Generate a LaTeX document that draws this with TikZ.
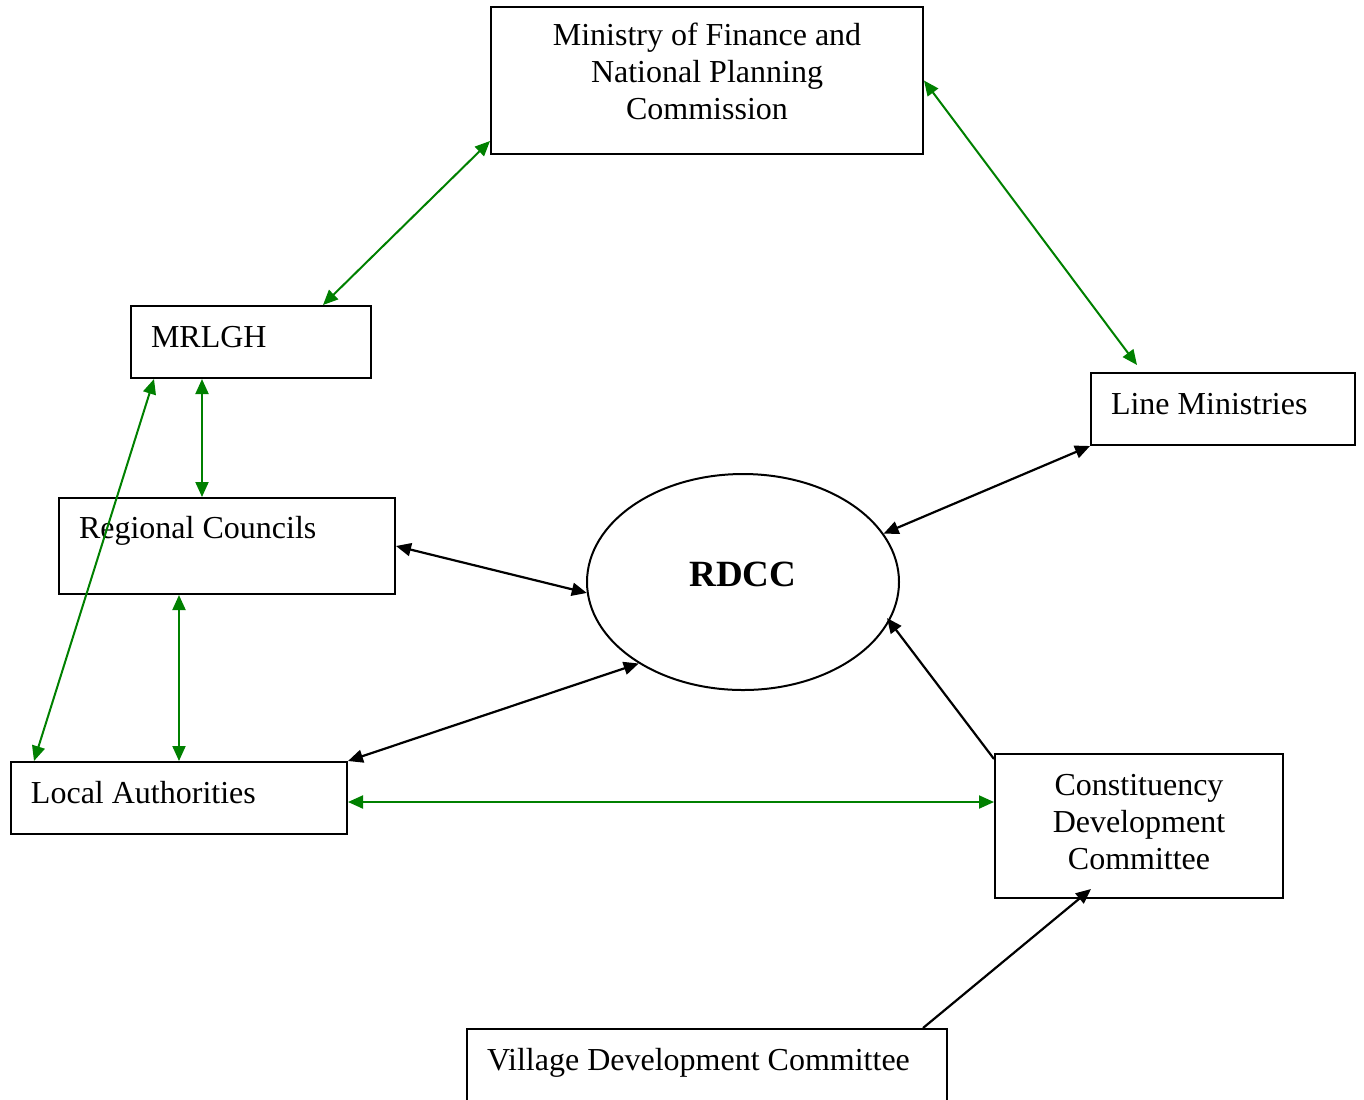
\documentclass[tikz,border=0pt]{standalone}
\usepackage{fontspec}
\setmainfont{Liberation Serif}
\usepackage{xcolor}
\usetikzlibrary{positioning, arrows.meta, shapes.geometric}
\definecolor{linkgreen}{RGB}{0,128,0}

\begin{document}
\begin{tikzpicture}[x=0.5pt, y=-0.5pt, >={Triangle[length=7.5pt, width=6.5pt]}]
	\tikzstyle{box}=[rectangle, draw=black, line width=1pt, font=\fontsize{16}{18.5}\selectfont, inner xsep=10pt, inner ysep=0pt]
	\tikzstyle{onerow}=[box, align=flush left, text height=20.5pt, text depth=15.5pt]
	\tikzstyle{greenlink}=[<->, draw=linkgreen, line width=1pt]
	\tikzstyle{blacklink}=[<->, draw=black, line width=1.1pt]
	\tikzstyle{blackone}=[->, draw=black, line width=1.1pt]
	\useasboundingbox (0,0) rectangle (1364,1099);
	% boxes
	\node[box, text width=196pt, align=flush center, text height=19.25pt, text depth=54.25pt] (ministry) at (707,80.5) {Ministry of Finance and\\National Planning\\Commission};
	\node[onerow, text width=100pt] (mrlgh) at (251,342) {MRLGH};
	\node[onerow, text width=112pt] (linemin) at (1223,409) {Line Ministries};
	\node[onerow, text width=148pt, text height=20pt, text depth=28pt] (regional) at (227,546) {Regional Councils};
	\node[onerow, text width=148pt] (local) at (179,798) {Local Authorities};
	\node[box, text width=124pt, align=flush center, text height=20.5pt, text depth=51.5pt] (cdc) at (1139,826) {Constituency\\Development\\Committee};
	\node[onerow, text width=220pt, text depth=29.5pt] (village) at (707,1079) {Village Development Committee};
	\node[ellipse, draw=black, line width=1pt, minimum width=156pt, minimum height=108pt, inner sep=0pt, text height=10pt, text depth=6pt, font=\fontsize{18.5}{22}\selectfont\bfseries] (rdcc) at (743,582) {RDCC};
	% green links
	\draw[greenlink] ([yshift=7pt]ministry.south west) -- ([xshift=96.5pt]mrlgh.north west);
	\draw[greenlink] (ministry.east) -- ([xshift=23.5pt, yshift=3.5pt]linemin.north west);
	\coordinate (m1) at ([xshift=36pt]mrlgh.south west);
	\draw[greenlink] (m1) -- (m1 |- regional.north);
	\draw[greenlink] ([xshift=12pt]mrlgh.south west) -- ([xshift=12pt]local.north west);
	\draw[greenlink] (local.north) -- (local.north |- regional.south);
	\coordinate (l1) at ([yshift=-2pt]local.east);
	\draw[greenlink] (l1) -- (l1 -| cdc.west);
	% black links
	\draw[blacklink] (regional.east) -- (rdcc.184);
	\draw[blacklink] (local.north east) -- (rdcc.218);
	\draw[blacklink] (linemin.south west) -- (rdcc.19);
	\draw[blackone, shorten >=-2pt] ([yshift=-3pt]cdc.north west) -- (rdcc.345);
	\draw[blackone] ([xshift=-12.5pt]village.north east) -- ([xshift=-24pt, yshift=5pt]cdc.south);
\end{tikzpicture}
\end{document}
